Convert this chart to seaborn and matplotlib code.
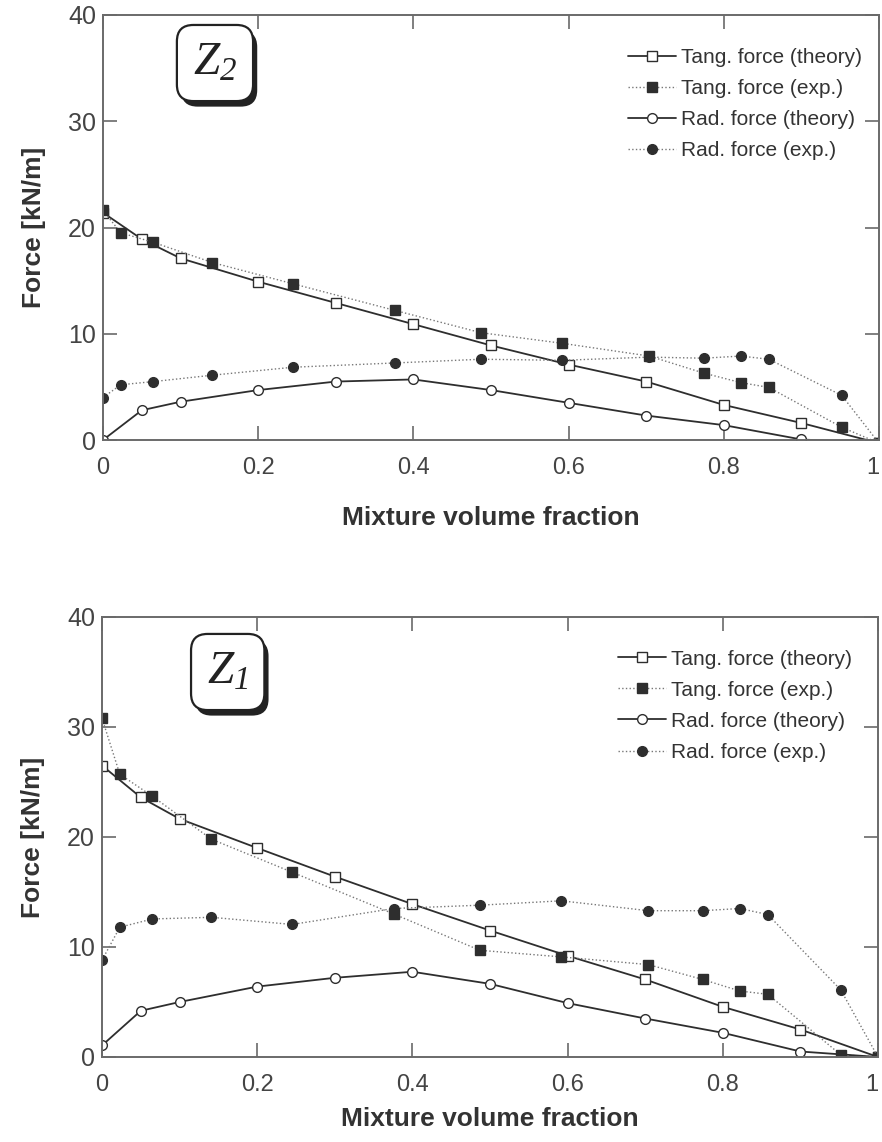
import numpy as np
import pandas as pd
import matplotlib
matplotlib.use("Agg")
import matplotlib.pyplot as plt
import matplotlib.patheffects as pe
import seaborn as sns

# ---------------- data ----------------
x_theory = [0.0, 0.05, 0.10, 0.20, 0.30, 0.40, 0.50, 0.60, 0.70, 0.80, 0.90, 1.00]
x_exp = [0.0, 0.023, 0.065, 0.141, 0.245, 0.376, 0.487, 0.592, 0.704, 0.774, 0.822, 0.858, 0.952, 1.00]

# Z2 (top panel)
z2_tang_theory = [21.4, 18.9, 17.1, 14.9, 12.9, 10.9, 8.9, 7.1, 5.5, 3.3, 1.6, -0.3]
z2_tang_exp = [21.6, 19.5, 18.6, 16.7, 14.7, 12.2, 10.1, 9.1, 7.9, 6.3, 5.4, 4.95, 1.2, -0.3]
z2_rad_theory = [0.0, 2.8, 3.6, 4.7, 5.5, 5.7, 4.7, 3.5, 2.3, 1.4, 0.05, -0.3]
z2_rad_exp = [4.0, 5.2, 5.5, 6.1, 6.85, 7.25, 7.6, 7.5, 7.8, 7.7, 7.9, 7.6, 4.2, -0.3]

# Z1 (bottom panel)
z1_tang_theory = [26.5, 23.6, 21.65, 19.0, 16.4, 13.9, 11.5, 9.2, 7.05, 4.56, 2.5, 0.0]
z1_tang_exp = [30.8, 25.7, 23.7, 19.8, 16.8, 13.0, 9.7, 9.1, 8.4, 7.05, 6.0, 5.7, 0.2, 0.0]
z1_rad_theory = [1.05, 4.2, 5.0, 6.4, 7.2, 7.75, 6.65, 4.9, 3.5, 2.2, 0.5, 0.0]
z1_rad_exp = [8.8, 11.8, 12.55, 12.7, 12.05, 13.5, 13.8, 14.2, 13.3, 13.3, 13.5, 12.95, 6.1, 0.0]

series_labels = ["Tang. force (theory)", "Tang. force (exp.)",
                 "Rad. force (theory)", "Rad. force (exp.)"]
panel_names = [r"$Z_{2}$", r"$Z_{1}$"]
x_ticks = [0, 0.2, 0.4, 0.6, 0.8, 1.0]
x_ticklabels = ["0", "0.2", "0.4", "0.6", "0.8", "1"]
y_ticks = [0, 10, 20, 30, 40]
y_ticklabels = ["0", "10", "20", "30", "40"]
x_label = "Mixture volume fraction"
y_label = "Force [kN/m]"

# ---------------- style ----------------
sns.set_theme(style="white")
plt.rcParams["font.family"] = ["Liberation Sans", "DejaVu Sans"]
plt.rcParams["mathtext.fontset"] = "custom"
plt.rcParams["mathtext.it"] = "Liberation Serif:italic"
plt.rcParams["mathtext.rm"] = "Liberation Serif:italic"

DPI = 100
fig = plt.figure(figsize=(8.82, 11.42), dpi=DPI)
W, H = 882, 1142

def ax_rect(l, t, r, b):
    return [l / W, 1 - b / H, (r - l) / W, (b - t) / H]

ax_top = fig.add_axes(ax_rect(103, 15, 879, 440))
ax_bot = fig.add_axes(ax_rect(102, 617, 878, 1057))

spine_col = "#6a6a6a"
dark = "#2e2e2e"

panels = [
    (ax_top, z2_tang_theory, z2_tang_exp, z2_rad_theory, z2_rad_exp,
     (0.1443, 0.887), (0.6765, 0.922), 20),
    (ax_bot, z1_tang_theory, z1_tang_exp, z1_rad_theory, z1_rad_exp,
     (0.162, 0.875), (0.665, 0.926), 8),
]

for i, (ax, tt, te, rt, re, zpos, legpos, xlpad) in enumerate(panels):
    common = dict(ax=ax, sort=False, errorbar=None, markersize=7,
                  markeredgewidth=1.0, markeredgecolor=dark)
    sns.lineplot(x=x_theory, y=tt, marker="s", color=dark, linewidth=1.3,
                 linestyle="-", markerfacecolor="white",
                 label=series_labels[0], **common)
    sns.lineplot(x=x_exp, y=te, marker="s", color="#777777", linewidth=1.0,
                 linestyle=":", markerfacecolor=dark,
                 label=series_labels[1], **common)
    sns.lineplot(x=x_theory, y=rt, marker="o", color=dark, linewidth=1.3,
                 linestyle="-", markerfacecolor="white",
                 label=series_labels[2], **common)
    sns.lineplot(x=x_exp, y=re, marker="o", color="#777777", linewidth=1.0,
                 linestyle=":", markerfacecolor=dark,
                 label=series_labels[3], **common)

    ax.set_xlim(0, 1.0)
    ax.set_ylim(0, 40)
    for sp in ax.spines.values():
        sp.set_visible(True)
        sp.set_color(spine_col)
        sp.set_linewidth(1.4)
    ax.set_xticks(x_ticks)
    ax.set_xticklabels(x_ticklabels)
    ax.set_yticks(y_ticks)
    ax.set_yticklabels(y_ticklabels)
    ax.tick_params(axis="both", which="both", direction="in", length=10,
                   width=1.2, color=spine_col, top=True, right=True,
                   bottom=True, left=True, labelcolor="#444444")
    ax.tick_params(axis="x", labelsize=17, pad=12)
    ax.tick_params(axis="y", labelsize=18, pad=5)
    ax.get_xticklabels()[-1].set_horizontalalignment("right")
    ax.set_xlabel(x_label, fontsize=19, fontweight="bold", color="#333333",
                  labelpad=xlpad)
    ax.set_ylabel(y_label, fontsize=19, fontweight="bold", color="#333333",
                  labelpad=16)
    ax.grid(False)

    leg = ax.legend(loc="upper left", bbox_to_anchor=legpos, frameon=False,
                    fontsize=15, handlelength=2.3, handletextpad=0.25,
                    labelspacing=0.58, borderpad=0, borderaxespad=0)
    for t in leg.get_texts():
        t.set_color("#333333")

    # panel label in a rounded box with a drop shadow
    zt = ax.text(zpos[0], zpos[1], panel_names[i], transform=ax.transAxes,
                 fontsize=34, ha="center", va="center", color="#222222",
                 bbox=dict(boxstyle="round,pad=0.34,rounding_size=0.35",
                           facecolor="white", edgecolor="#222222",
                           linewidth=1.6),
                 zorder=6)
    zt.get_bbox_patch().set_path_effects([
        pe.SimplePatchShadow(offset=(3, -4), shadow_rgbFace="#222222",
                             alpha=1.0),
        pe.Normal(),
    ])

fig.savefig("out.png", dpi=DPI, facecolor="white")
